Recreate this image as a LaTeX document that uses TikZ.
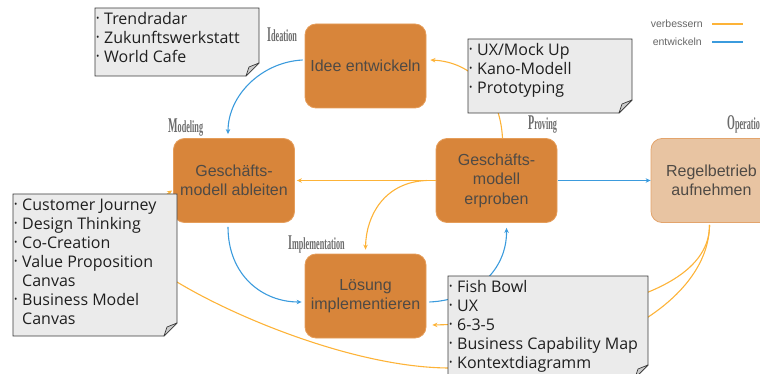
\documentclass[tikz,border=0pt]{standalone}
\usepackage{fontspec}
\usepackage{graphicx}
\usetikzlibrary{arrows.meta,calc}
\newfontfamily\notefont{Open Sans}
\newfontfamily\boxfont{Liberation Sans}
\newfontfamily\phasefont{Liberation Serif}
\definecolor{stepfill}{HTML}{D8853A}
\definecolor{stepedge}{HTML}{E59D5A}
\definecolor{opfill}{HTML}{E8C4A2}
\definecolor{opedge}{HTML}{E3A46C}
\definecolor{improve}{HTML}{FDB338}
\definecolor{develop}{HTML}{3B9BDD}
\definecolor{notefill}{HTML}{EBEBEB}
\definecolor{noteedge}{HTML}{3A3A3A}
\definecolor{steptext}{HTML}{4F4A45}

% list bullet and continuation indent for the method sheets
\newcommand\blt{\makebox[8pt][l]{\raisebox{3.2pt}{\fontsize{9}{9}\selectfont •}}}
\newcommand\cont{\hspace*{8pt}}
% phase title: large initial, narrow set
\newcommand\phasetitle[2]{\scalebox{0.48}[1]{\fontsize{21}{21}\selectfont #1\fontsize{17}{17}\selectfont #2}}
% sheet with folded lower right corner: x1, y1, x2, y2
\newcommand\notesheet[4]{%
  \filldraw[notesheet] (#1,#2) -- (#3,#2) -- (#3,#4-13) -- (#3-13,#4) -- (#1,#4) -- cycle;
  \filldraw[notefold] (#3,#4-13) -- (#3-13,#4) -- (#3-10,#4-9) -- cycle;}

\begin{document}
\begin{tikzpicture}[x=1pt,y=-1pt,
  stepbox/.style={rectangle, rounded corners=11pt, fill=stepfill, draw=stepedge,
    line width=0.8pt, minimum width=121pt, minimum height=84pt, align=center,
    text=steptext, font=\boxfont\fontsize{16}{19.5}\selectfont, inner sep=2pt},
  opbox/.style={stepbox, fill=opfill, draw=opedge},
  notesheet/.style={fill=notefill, draw=noteedge, line width=0.9pt},
  notefold/.style={fill=gray!40, draw=noteedge, line width=0.7pt, line join=round},
  notetext/.style={anchor=north west, inner sep=0pt, align=left,
    font=\notefont\fontsize{16}{19}\selectfont, text=black!88},
  phase/.style={anchor=base west, inner sep=0pt, text=black!58, font=\phasefont\bfseries},
  improveflow/.style={draw=improve, line width=1.1pt, -{Stealth[length=5pt,width=4.5pt]}},
  developflow/.style={draw=develop, line width=1.1pt, -{Stealth[length=5pt,width=4.5pt]}},
  legendtext/.style={anchor=east, inner sep=0pt, text=black!60,
    font=\boxfont\fontsize{10.5}{11}\selectfont},
]
\useasboundingbox (0,0) rectangle (760,374);
\clip (0,0) rectangle (760,374);

% process steps
\node[stepbox] (idee) at (365.5,66) {Idee entwickeln};
\node[stepbox] (ableiten) at (234,180.5) {Geschäfts-\\modell ableiten};
\node[stepbox] (erproben) at (496.5,180.5) {Geschäfts-\\modell\\erproben};
\node[opbox] (regel) at (711.5,180.5) {Regelbetrieb\\aufnehmen};
\node[stepbox] (loesung) at (365.5,296) {Lösung\\implementieren};

% phase titles
\node[phase] (ph1) at (267,42) {\phasetitle{I}{deation}};
\node[phase] (ph2) at (168,133) {\phasetitle{M}{odeling}};
\node[phase] (ph3) at (528,130) {\phasetitle{P}{roving}};
\node[phase] (ph4) at (727,130) {\phasetitle{O}{peration}};
\node[phase] (ph5) at (288,249) {\phasetitle{I}{mplementation}};

% develop cycle
\draw[developflow] ($(idee.west)+(-2,-6)$) .. controls (262,62) and (228,95) .. ($(ableiten.north)+(-6,-4)$);
\draw[developflow] ($(ableiten.south)+(-6,4)$) .. controls (228,275) and (262,302) .. ($(loesung.west)+(-3,6)$);
\draw[developflow] ($(loesung.east)+(3,6)$) .. controls (475,300) and (507,270) .. ($(erproben.south)+(10,5)$);
\draw[developflow] ($(erproben.east)+(1,0)$) -- (regel.west);

% improvement loops
\draw[improveflow] ($(erproben.north)+(6,0)$) .. controls (500,92) and (472,62) .. ($(idee.east)+(4,-6)$);
\draw[improveflow] (erproben.west) -- ($(ableiten.east)+(2,0)$);
\draw[improveflow] ($(erproben.west)+(-9,0)$) .. controls (385,182) and (366,215) .. ($(loesung.north)+(0,-4)$);
\draw[improveflow] ($(regel.south)+(-2,2)$) .. controls (710,300) and (560,322) .. ($(loesung.east)+(6,29)$);
\draw[improveflow] ($(regel.south)+(-2,2)$) .. controls (709,300) and (600,368) .. (450,368)
  .. controls (360,368) and (240,320) .. (177,282)
  .. controls (133,255) and (158,200) .. ($(ableiten.west)+(-1,10)$);

% method sheets
\notesheet{95}{8}{259}{76}
\node[notetext] (tools1) at (96,12) {\blt Trendradar\\\blt Zukunftswerkstatt\\\blt World Cafe};
\notesheet{468}{39}{632}{113}
\node[notetext] (tools2) at (469,43) {\blt UX/Mock Up\\\blt Kano-Modell\\\blt Prototyping};
\notesheet{13}{194}{177}{336}
\node[notetext] (tools3) at (14,199) {\blt Customer Journey\\\blt Design Thinking\\\blt Co-Creation\\\blt Value Proposition\\\cont Canvas\\\blt Business Model\\\cont Canvas};
\notesheet{448}{276}{648}{378}
\node[notetext] (tools4) at (449,280) {\blt Fish Bowl\\\blt UX\\\blt 6-3-5\\\blt Business Capability Map\\\blt Kontextdiagramm};

% legend
\node[legendtext] (lgimp) at (703,24) {verbessern};
\node[legendtext] (lgdev) at (702,42) {entwickeln};
\draw[draw=improve, line width=1.3pt] ($(lgimp.east)+(9,0)$) -- ++(31,0);
\draw[draw=develop, line width=1.3pt] ($(lgdev.east)+(10,0)$) -- ++(31,0);
\end{tikzpicture}
\end{document}
